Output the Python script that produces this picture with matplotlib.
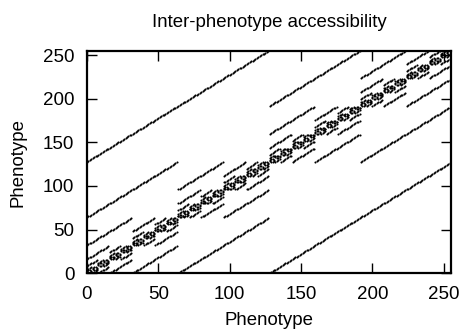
import numpy as np
import matplotlib
matplotlib.use('Agg')
import matplotlib.pyplot as plt

# 8-bit phenotypes, accessible by flipping a single bit
n_phenotypes = 256
bit_masks = [1, 2, 4, 8, 16, 32, 64, 128]
tick_values = [0, 50, 100, 150, 200, 250]

plt.rcParams['font.family'] = ['Liberation Sans', 'DejaVu Sans']

phenotypes = np.arange(n_phenotypes)
src = np.concatenate([phenotypes for m in bit_masks])
dst = np.concatenate([phenotypes ^ m for m in bit_masks])

fig = plt.figure(figsize=(4.59, 3.29), dpi=100)
ax = fig.add_axes([0.1895, 0.170, 0.793, 0.675])

ax.plot(src, dst, linestyle='none', marker='o', markersize=1.5,
        markeredgewidth=0, color='black')

ax.set_xlim(0, 255)
ax.set_ylim(0, 255)
ax.set_xticks(tick_values)
ax.set_yticks(tick_values)
ax.tick_params(direction='in', length=7, width=1, top=True, right=True,
               labelsize=13.5, pad=9, colors='black')
for s in ax.spines.values():
    s.set_linewidth(1.6)

ax.set_title('Inter-phenotype accessibility', fontsize=13.4, pad=17)
ax.set_xlabel('Phenotype', fontsize=13.4, labelpad=7)
ax.set_ylabel('Phenotype', fontsize=13.4, labelpad=12)

fig.savefig('out.png', dpi=100)
